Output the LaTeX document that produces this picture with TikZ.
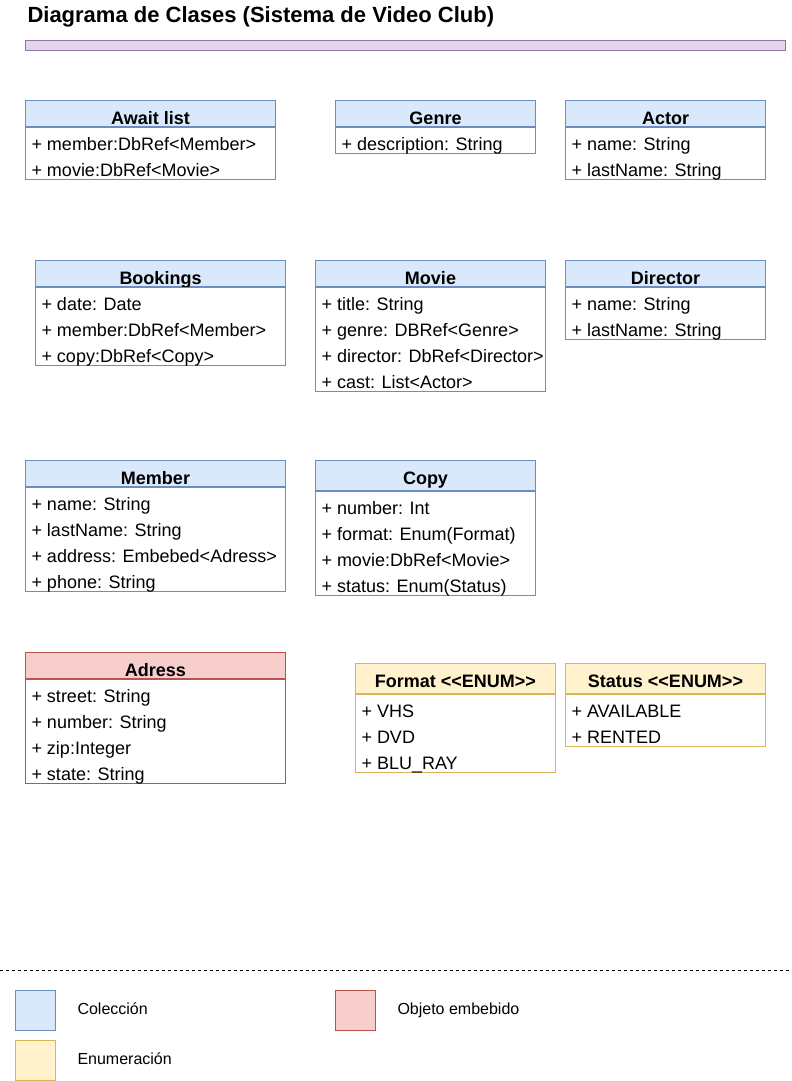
\documentclass[tikz,border=0pt]{standalone}
\usepackage{fontspec}
\setmainfont{Liberation Sans}
\usetikzlibrary{positioning}

\definecolor{collfill}{HTML}{DAE8FC}
\definecolor{colldraw}{HTML}{6C8EBF}
\definecolor{embfill}{HTML}{F8CECC}
\definecolor{embdraw}{HTML}{B85450}
\definecolor{enumfill}{HTML}{FFF2CC}
\definecolor{enumdraw}{HTML}{D6B656}
\definecolor{barfill}{HTML}{E1D5E7}
\definecolor{bardraw}{HTML}{9673A6}

\begin{document}
\begin{tikzpicture}[x=1pt, y=-1pt, line width=1pt,
  hdr/.style={draw, inner sep=0, anchor=north west, minimum height=26, text height=21, text depth=0, font=\bfseries\fontsize{18}{20}\selectfont},
  tall/.style={minimum height=30, text height=17},
  body/.style={draw, fill=white, inner sep=0, anchor=north west},
  row/.style={anchor=base west, inner sep=0, font=\fontsize{18}{20}\selectfont},
  coll/.style={fill=collfill, draw=colldraw},
  emb/.style={fill=embfill, draw=embdraw},
  enum/.style={fill=enumfill, draw=enumdraw},
  legbox/.style={draw, inner sep=0, minimum size=40, anchor=north west},
  legtext/.style={anchor=base west, inner sep=0, font=\fontsize{16}{18}\selectfont}]

\useasboundingbox (0,0) rectangle (792,1081);

% title
\node[anchor=base west, inner sep=0, font=\bfseries\fontsize{22}{24}\selectfont] (title) at (27,23) {Diagrama de Clases (Sistema de Video Club)};
\node[draw=bardraw, fill=barfill, inner sep=0, minimum width=760, minimum height=10, anchor=north west] (bar) at (25,40) {};

% first row
\node[hdr, coll, minimum width=250] (awaitH) at (25,100) {Await list};
\node[body, draw=colldraw, minimum width=250, minimum height=52] (awaitB) at (awaitH.south west) {};
\foreach \txt [count=\i] in {+ member:DbRef<Member>, + movie:DbRef<Movie>}
  \node[row] (await\i) at ([xshift=6pt, yshift={-23pt-26pt*(\i-1)}]awaitB.north west) {\txt};

\node[hdr, coll, minimum width=200] (genreH) at (335,100) {Genre};
\node[body, draw=colldraw, minimum width=200, minimum height=26] (genreB) at (genreH.south west) {};
\foreach \txt [count=\i] in {+ description: String}
  \node[row] (genre\i) at ([xshift=6pt, yshift={-23pt-26pt*(\i-1)}]genreB.north west) {\txt};

\node[hdr, coll, minimum width=200] (actorH) at (565,100) {Actor};
\node[body, draw=colldraw, minimum width=200, minimum height=52] (actorB) at (actorH.south west) {};
\foreach \txt [count=\i] in {+ name: String, + lastName: String}
  \node[row] (actor\i) at ([xshift=6pt, yshift={-23pt-26pt*(\i-1)}]actorB.north west) {\txt};

% second row
\node[hdr, coll, minimum width=250] (bookH) at (35,260) {Bookings};
\node[body, draw=colldraw, minimum width=250, minimum height=78] (bookB) at (bookH.south west) {};
\foreach \txt [count=\i] in {+ date: Date, + member:DbRef<Member>, + copy:DbRef<Copy>}
  \node[row] (book\i) at ([xshift=6pt, yshift={-23pt-26pt*(\i-1)}]bookB.north west) {\txt};

\node[hdr, coll, minimum width=230] (movieH) at (315,260) {Movie};
\node[body, draw=colldraw, minimum width=230, minimum height=104] (movieB) at (movieH.south west) {};
\foreach \txt [count=\i] in {+ title: String, + genre: DBRef<Genre>, + director: DbRef<Director>, + cast: List<Actor>}
  \node[row] (movie\i) at ([xshift=6pt, yshift={-23pt-26pt*(\i-1)}]movieB.north west) {\txt};

\node[hdr, coll, minimum width=200] (dirH) at (565,260) {Director};
\node[body, draw=colldraw, minimum width=200, minimum height=52] (dirB) at (dirH.south west) {};
\foreach \txt [count=\i] in {+ name: String, + lastName: String}
  \node[row] (dir\i) at ([xshift=6pt, yshift={-23pt-26pt*(\i-1)}]dirB.north west) {\txt};

% third row
\node[hdr, coll, minimum width=260] (memberH) at (25,460) {Member};
\node[body, draw=colldraw, minimum width=260, minimum height=104] (memberB) at (memberH.south west) {};
\foreach \txt [count=\i] in {+ name: String, + lastName: String, + address: Embebed<Adress>, + phone: String}
  \node[row] (member\i) at ([xshift=6pt, yshift={-23pt-26pt*(\i-1)}]memberB.north west) {\txt};

\node[hdr, tall, coll, minimum width=220] (copyH) at (315,460) {Copy};
\node[body, draw=colldraw, minimum width=220, minimum height=104] (copyB) at (copyH.south west) {};
\foreach \txt [count=\i] in {+ number: Int, + format: Enum(Format), + movie:DbRef<Movie>, + status: Enum(Status)}
  \node[row] (copy\i) at ([xshift=6pt, yshift={-23pt-26pt*(\i-1)}]copyB.north west) {\txt};

% fourth row
\node[hdr, emb, minimum width=260] (adressH) at (25,652) {Adress};
\node[body, draw=embdraw, minimum width=260, minimum height=104] (adressB) at (adressH.south west) {};
\foreach \txt [count=\i] in {+ street: String, + number: String, + zip:Integer, + state: String}
  \node[row] (adress\i) at ([xshift=6pt, yshift={-23pt-26pt*(\i-1)}]adressB.north west) {\txt};

\node[hdr, tall, enum, minimum width=200] (formatH) at (355,663) {Format {<}{<}ENUM{>}{>}};
\node[body, draw=enumdraw, minimum width=200, minimum height=78] (formatB) at (formatH.south west) {};
\foreach \txt [count=\i] in {+ VHS, + DVD, + BLU\_RAY}
  \node[row] (format\i) at ([xshift=6pt, yshift={-23pt-26pt*(\i-1)}]formatB.north west) {\txt};

\node[hdr, tall, enum, minimum width=200] (statusH) at (565,663) {Status {<}{<}ENUM{>}{>}};
\node[body, draw=enumdraw, minimum width=200, minimum height=52] (statusB) at (statusH.south west) {};
\foreach \txt [count=\i] in {+ AVAILABLE, + RENTED}
  \node[row] (status\i) at ([xshift=6pt, yshift={-23pt-26pt*(\i-1)}]statusB.north west) {\txt};

% legend
\coordinate (sepL) at (0,970);
\coordinate (sepR) at (792,970);
\draw[line width=0.8pt, dash pattern=on 3pt off 3pt] (sepL) -- (sepR);

\node[legbox, coll] (legColl) at (15,990) {};
\node[legbox, enum] (legEnum) at (15,1040) {};
\node[legbox, emb] (legEmb) at (335,990) {};
\node[legtext] (legCollT) at (77,1014) {Colección};
\node[legtext] (legEnumT) at (77,1064) {Enumeración};
\node[legtext] (legEmbT) at (397,1014) {Objeto embebido};
\end{tikzpicture}
\end{document}
